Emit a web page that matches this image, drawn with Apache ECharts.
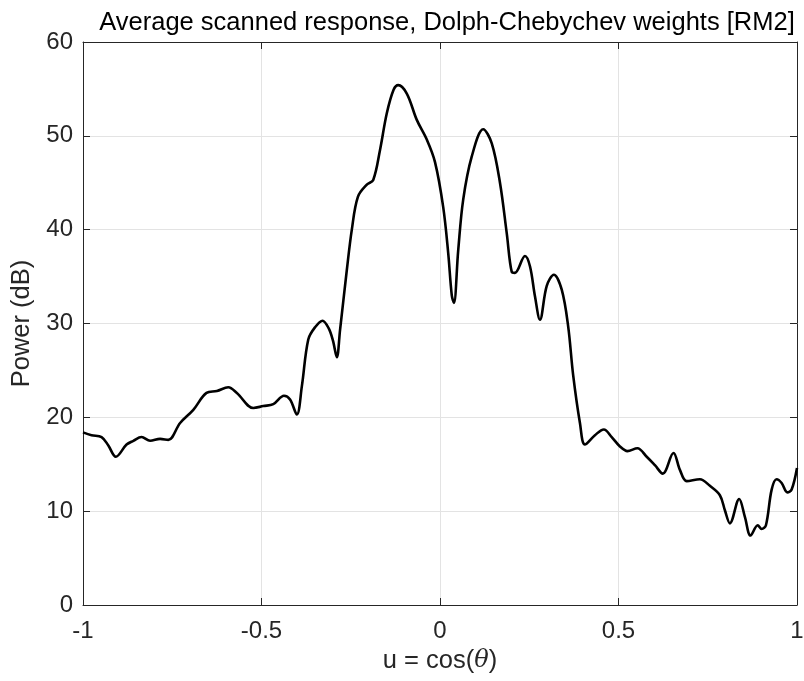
<!DOCTYPE html>
<html>
<head>
<meta charset="utf-8">
<script src="https://cdn.jsdelivr.net/npm/echarts@6/dist/echarts.min.js"></script>
<style>
  html, body { margin: 0; padding: 0; background: #fff; }
  #chart { width: 804px; height: 681px; }
</style>
</head>
<body>
<div id="chart"></div>
<script>
// Direction cosine u = cos(theta)
const uValues = [
  -1.000, -0.976, -0.948, -0.929, -0.908, -0.878, -0.859, -0.836, -0.812, -0.784,
  -0.761, -0.728, -0.691, -0.654, -0.625, -0.593, -0.569, -0.523, -0.495, -0.467,
  -0.437, -0.420, -0.401, -0.387, -0.369, -0.350, -0.329, -0.312, -0.300, -0.289,
  -0.280, -0.261, -0.247, -0.230, -0.205, -0.187, -0.168, -0.149, -0.130, -0.117,
  -0.093, -0.065, -0.037, -0.014, 0.009, 0.023, 0.033, 0.039, 0.051, 0.065,
  0.089, 0.121, 0.145, 0.168, 0.187, 0.201, 0.210, 0.238, 0.252, 0.266,
  0.280, 0.299, 0.319, 0.341, 0.359, 0.373, 0.392, 0.406, 0.434, 0.459,
  0.481, 0.504, 0.525, 0.553, 0.579, 0.602, 0.624, 0.654, 0.672, 0.691,
  0.728, 0.756, 0.784, 0.798, 0.812, 0.838, 0.854, 0.870, 0.890, 0.901,
  0.913, 0.929, 0.943, 0.957, 0.973, 0.985, 1.000
];
// Average scanned power in dB
const powerDb = [
  18.4, 18.1, 17.9, 17.0, 15.8, 17.1, 17.5, 17.9, 17.5, 17.7,
  17.6, 19.4, 20.8, 22.6, 22.8, 23.2, 22.6, 21.0, 21.2, 21.4,
  22.3, 21.9, 20.3, 23.3, 28.3, 29.6, 30.3, 29.5, 28.2, 26.4,
  29.3, 35.7, 40.0, 43.5, 44.8, 45.3, 48.5, 52.4, 54.9, 55.4,
  54.5, 51.7, 49.6, 47.2, 42.4, 37.5, 33.0, 32.2, 37.8, 43.2,
  47.8, 50.7, 49.2, 45.0, 39.6, 35.5, 35.4, 37.2, 36.1, 32.9,
  30.4, 34.0, 35.2, 33.6, 29.7, 24.5, 19.4, 17.1, 18.1, 18.7,
  17.9, 16.9, 16.4, 16.7, 15.8, 14.9, 14.0, 16.2, 14.4, 13.2,
  13.4, 12.7, 11.7, 10.1, 8.7, 11.3, 9.4, 7.4, 8.5, 8.1,
  8.5, 12.3, 13.4, 13.0, 12.0, 12.3, 14.6
];
const xTicks = [-1, -0.5, 0, 0.5, 1];
const yTicks = [0, 10, 20, 30, 40, 50, 60];

const FONT = 'Liberation Sans, Arial, Helvetica, sans-serif';
const AXIS_COLOR = '#262626';
const GRID_COLOR = '#e3e3e3';

const chart = echarts.init(document.getElementById('chart'), null, { renderer: 'canvas' });

const baseX = {
  type: 'value', min: -1, max: 1, interval: 0.5,
  axisLine: { show: true, onZero: false, lineStyle: { color: AXIS_COLOR, width: 1 } },
  axisTick: { show: true, inside: true, length: 7, lineStyle: { color: AXIS_COLOR } }
};
const baseY = {
  type: 'value', min: 0, max: 60, interval: 10,
  axisLine: { show: true, onZero: false, lineStyle: { color: AXIS_COLOR, width: 1 } },
  axisTick: { show: true, inside: true, length: 7, lineStyle: { color: AXIS_COLOR } }
};

chart.setOption({
  animation: false,
  backgroundColor: '#ffffff',
  title: {
    text: 'Average scanned response, Dolph-Chebychev weights [RM2]',
    left: 442, top: 5, textAlign: 'center',
    textStyle: { fontFamily: FONT, fontSize: 25.5, fontWeight: 'normal', color: '#000' }
  },
  grid: {
    left: 83, right: 7, top: 42, bottom: 76,
    containLabel: false, outerBoundsMode: 'none'
  },
  xAxis: [
    Object.assign({}, baseX, {
      position: 'bottom',
      name: '{n|u = cos(}{t|θ}{n|)}',
      nameLocation: 'middle', nameGap: 39,
      nameTextStyle: {
        rich: {
          n: { fontFamily: FONT, fontSize: 25.5, color: '#262626' },
          t: { fontFamily: 'DejaVu Serif, Liberation Serif, serif', fontStyle: 'italic', fontSize: 24, color: '#262626' }
        }
      },
      axisLabel: {
        show: true, margin: 14, fontFamily: FONT, fontSize: 24, color: '#262626',
        formatter: v => (xTicks.indexOf(v) >= 0 ? String(v) : '')
      },
      splitLine: { show: true, lineStyle: { color: GRID_COLOR, width: 1 } }
    }),
    Object.assign({}, baseX, {
      position: 'top',
      axisLabel: { show: false },
      splitLine: { show: false }
    })
  ],
  yAxis: [
    Object.assign({}, baseY, {
      position: 'left',
      name: 'Power (dB)',
      nameLocation: 'middle', nameGap: 48,
      nameTextStyle: { fontFamily: FONT, fontSize: 25.5, color: '#262626' },
      axisLabel: {
        show: true, margin: 10, fontFamily: FONT, fontSize: 24, color: '#262626',
        formatter: v => (yTicks.indexOf(v) >= 0 ? String(v) : '')
      },
      splitLine: { show: true, lineStyle: { color: GRID_COLOR, width: 1 } }
    }),
    Object.assign({}, baseY, {
      position: 'right',
      axisLabel: { show: false },
      splitLine: { show: false }
    })
  ],
  series: [{
    type: 'line',
    xAxisIndex: 0, yAxisIndex: 0,
    data: uValues.map((u, i) => [u, powerDb[i]]),
    showSymbol: false,
    smooth: 0.35,
    lineStyle: { color: '#000000', width: 2.6 },
    z: 5
  }]
});
</script>
</body>
</html>
